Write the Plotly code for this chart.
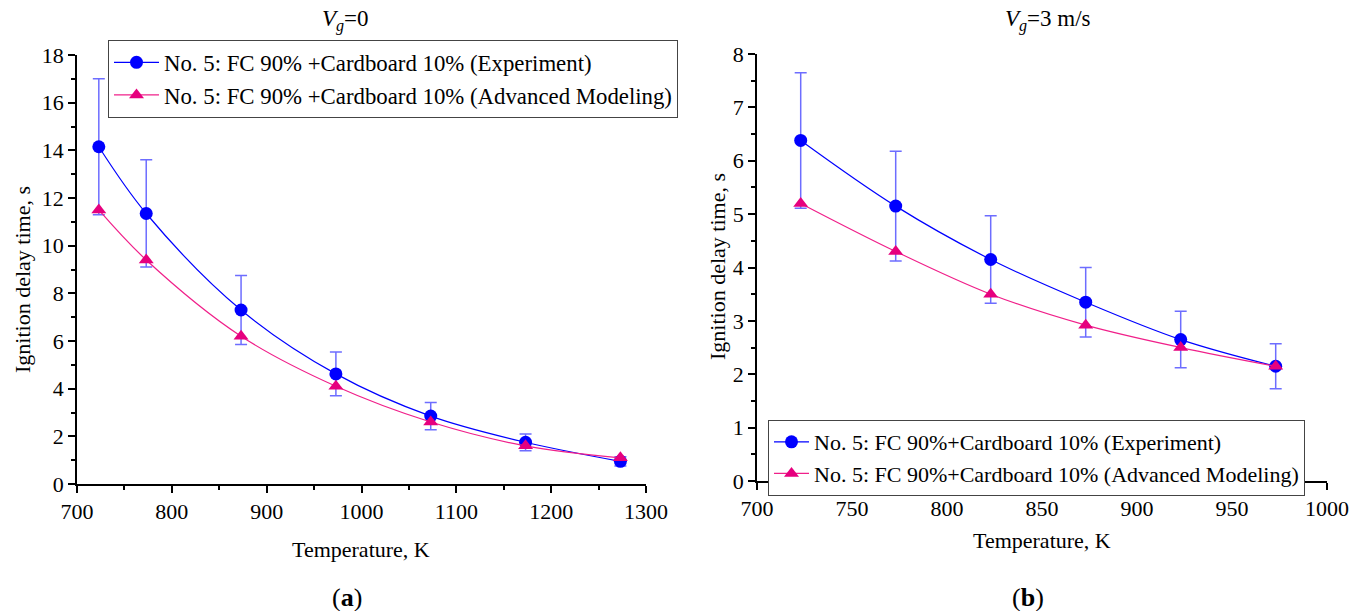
import plotly.graph_objects as go

# Panel (a): Vg = 0
temp_a = [723, 773, 873, 973, 1073, 1173, 1273]
exp_a = [14.15, 11.35, 7.3, 4.62, 2.85, 1.75, 0.95]
err_a = [2.85, 2.25, 1.45, 0.92, 0.57, 0.35, 0.19]
mod_a = [11.5, 9.4, 6.2, 4.1, 2.6, 1.6, 1.1]

# Panel (b): Vg = 3 m/s
temp_b = [723, 773, 823, 873, 923, 973]
exp_b = [6.38, 5.15, 4.15, 3.35, 2.65, 2.15]
err_b = [1.27, 1.03, 0.82, 0.65, 0.53, 0.42]
mod_b = [5.2, 4.3, 3.5, 2.92, 2.5, 2.15]

names_a = ["No. 5: FC 90% +Cardboard 10% (Experiment)",
           "No. 5: FC 90% +Cardboard 10% (Advanced Modeling)"]
names_b = ["No. 5: FC 90%+Cardboard 10% (Experiment)",
           "No. 5: FC 90%+Cardboard 10% (Advanced Modeling)"]

BLUE = "#0000FF"
PINK = "#E6007E"
PINKLINE = "#F0208A"
FONT = "Liberation Serif, Times New Roman, serif"

W, H = 1362, 611
def px(x):
    return x / W
def py(y):
    return 1 - y / H

fig = go.Figure()

def add_panel(xs, ex, er, md, names, xa, ya, leg):
    fig.add_trace(go.Scatter(
        x=xs, y=ex, name=names[0], mode="lines+markers",
        line=dict(color=BLUE, width=1.2, shape="spline"),
        marker=dict(symbol="circle", size=13, color=BLUE),
        error_y=dict(type="data", array=er, visible=True,
                     color="rgba(60,60,255,0.75)", thickness=1.5, width=6),
        xaxis=xa, yaxis=ya, legend=leg))
    fig.add_trace(go.Scatter(
        x=xs, y=md, name=names[1], mode="lines+markers",
        line=dict(color=PINKLINE, width=1.2, shape="spline"),
        marker=dict(symbol="triangle-up", size=13, color=PINK),
        xaxis=xa, yaxis=ya, legend=leg))

add_panel(temp_a, exp_a, err_a, mod_a, names_a, "x", "y", "legend")
add_panel(temp_b, exp_b, err_b, mod_b, names_b, "x2", "y2", "legend2")

axis_common = dict(
    showline=True, linecolor="black", linewidth=1.5, mirror=False,
    ticks="outside", ticklen=7, tickwidth=1.5, tickcolor="black",
    showgrid=False, zeroline=False, automargin=False,
    tickfont=dict(family=FONT, size=22, color="black"),
)
minor_common = dict(ticks="outside", ticklen=4, tickcolor="black", tickwidth=1.5)

fig.update_layout(
    width=W, height=H,
    margin=dict(l=0, r=0, t=0, b=0),
    paper_bgcolor="white", plot_bgcolor="white",
    showlegend=True,
    xaxis=dict(domain=[px(77), px(646)], range=[700, 1300], dtick=100,
               anchor="y", minor=dict(dtick=50, **minor_common), **axis_common),
    yaxis=dict(domain=[py(484), py(55)], range=[0, 18], dtick=2,
               anchor="x", minor=dict(dtick=1, **minor_common), **axis_common),
    xaxis2=dict(domain=[px(757), px(1327)], range=[700, 1000], dtick=50,
                anchor="y2", minor=dict(dtick=25, **minor_common), **axis_common),
    yaxis2=dict(domain=[py(481), py(54)], range=[0, 8], dtick=1,
                anchor="x2", minor=dict(dtick=0.5, **minor_common), **axis_common),
    legend=dict(x=px(108), y=py(40), xanchor="left", yanchor="top",
                bgcolor="white", bordercolor="#444", borderwidth=1,
                font=dict(family=FONT, size=22.8, color="black"),
                tracegroupgap=0, itemwidth=45),
    legend2=dict(x=px(768), y=py(420), xanchor="left", yanchor="top",
                 bgcolor="white", bordercolor="#444", borderwidth=1,
                 font=dict(family=FONT, size=22, color="black"),
                 tracegroupgap=0, itemwidth=35),
)

ann_font = dict(family=FONT, color="black")
annotations = [
    dict(text="<i>V<sub>g</sub></i>=0", x=px(346), y=py(20), size=23),
    dict(text="<i>V<sub>g</sub></i>=3 m/s", x=px(1048), y=py(20), size=23),
    dict(text="(<b>a</b>)", x=px(347), y=py(597), size=26),
    dict(text="(<b>b</b>)", x=px(1028), y=py(597), size=26),
    dict(text="Temperature, K", x=px(361), y=py(549), size=22),
    dict(text="Temperature, K", x=px(1042), y=py(540), size=22),
    dict(text="Ignition delay time, s", x=px(22), y=py(280), size=22, angle=-90),
    dict(text="Ignition delay time, s", x=px(717), y=py(267), size=22, angle=-90),
]
for a in annotations:
    fig.add_annotation(text=a["text"], x=a["x"], y=a["y"], xref="paper", yref="paper",
                       xanchor="center", yanchor="middle", showarrow=False,
                       textangle=a.get("angle", 0),
                       font=dict(size=a["size"], **ann_font))

fig.write_html("out.html")
